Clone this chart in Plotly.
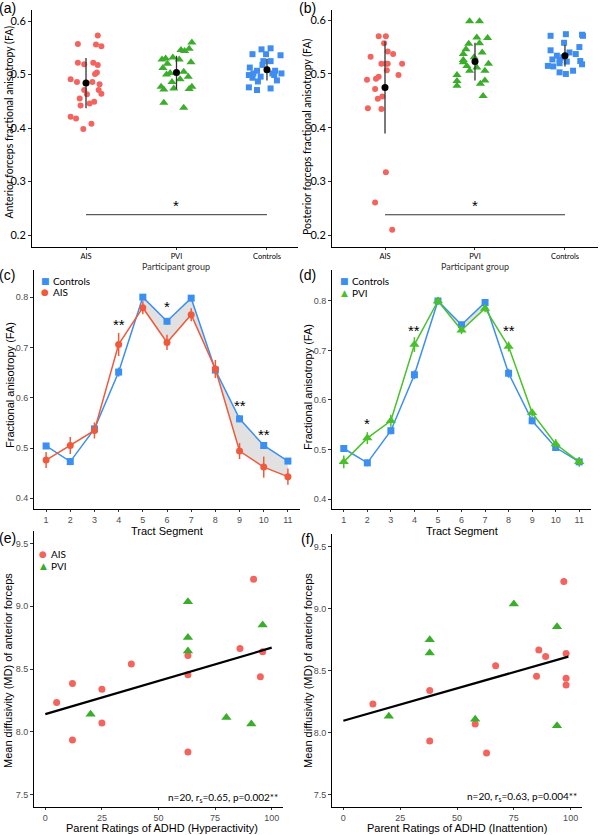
# ---------- LIBRARIES ---------- #
import plotly.graph_objects as go

# ---------- DATA ----------- #
groups = ["AIS", "PVI", "Controls"]

# (a) anterior forceps FA, points with their horizontal jitter
a_ais_fa = [0.573, 0.557, 0.556, 0.553, 0.522, 0.519, 0.522, 0.518, 0.501, 0.504, 0.491, 0.486, 0.486,
            0.482, 0.471, 0.463, 0.471, 0.464, 0.455, 0.442, 0.446, 0.449, 0.421, 0.418, 0.408, 0.398]
a_ais_jit = [0.13, -0.09, 0.11, 0.17, -0.09, -0.02, 0.08, 0.13, 0.10, 0.12, -0.17, -0.10, 0.07,
             0.15, -0.02, 0.01, 0.14, 0.17, -0.07, -0.06, 0.04, 0.09, -0.17, -0.11, 0.06, -0.03]
a_pvi_fa = [0.560, 0.546, 0.544, 0.548, 0.528, 0.532, 0.528, 0.520, 0.512, 0.523, 0.503, 0.505,
            0.496, 0.491, 0.486, 0.477, 0.472, 0.474, 0.477, 0.473, 0.447, 0.438, 0.500, 0.530]
a_pvi_jit = [0.17, 0.05, 0.09, 0.14, -0.16, -0.04, 0.03, -0.10, -0.15, 0.16, -0.07, 0.08,
             0.13, 0.04, -0.05, -0.17, -0.14, -0.03, 0.17, 0.14, -0.14, 0.08, -0.11, -0.12]
a_ctrl_fa = [0.547, 0.549, 0.538, 0.538, 0.536, 0.525, 0.525, 0.518, 0.513, 0.507, 0.502, 0.499,
             0.507, 0.502, 0.502, 0.499, 0.494, 0.496, 0.487, 0.489, 0.476, 0.471, 0.474]
a_ctrl_jit = [-0.06, 0.04, -0.16, -0.01, 0.15, -0.04, 0.04, -0.05, -0.19, -0.11, -0.15, -0.20,
              0.09, 0.06, 0.16, 0.08, -0.16, -0.07, -0.10, 0.11, -0.20, -0.11, 0.04]
a_mean = [0.484, 0.504, 0.509]
a_sd = [0.047, 0.031, 0.020]
a_sig_y = 0.238

# (b) posterior forceps FA
b_ais_fa = [0.570, 0.570, 0.557, 0.542, 0.537, 0.532, 0.519, 0.519, 0.519, 0.519, 0.507, 0.498,
            0.489, 0.491, 0.495, 0.472, 0.458, 0.454, 0.436, 0.435, 0.317, 0.261, 0.210]
b_ais_jit = [-0.07, 0.01, -0.01, 0.03, 0.09, -0.16, -0.04, 0.01, 0.03, 0.19, 0.02, 0.15,
             -0.20, -0.10, -0.07, -0.11, -0.03, -0.08, -0.19, -0.04, 0.01, -0.11, 0.08]
b_pvi_fa = [0.598, 0.598, 0.568, 0.567, 0.556, 0.557, 0.546, 0.540, 0.537, 0.531, 0.526, 0.515,
            0.522, 0.519, 0.512, 0.506, 0.506, 0.498, 0.487, 0.488, 0.482, 0.478, 0.459]
b_pvi_jit = [-0.06, 0.05, 0.02, 0.14, -0.07, 0.05, -0.10, 0.08, -0.13, -0.01, -0.13, -0.09,
             -0.13, 0.15, 0.02, -0.06, 0.11, -0.20, -0.20, 0.11, 0.06, -0.20, 0.09]
b_ctrl_fa = [0.571, 0.574, 0.573, 0.571, 0.558, 0.550, 0.544, 0.540, 0.537, 0.534, 0.531, 0.527,
             0.526, 0.520, 0.524, 0.518, 0.515, 0.514, 0.503, 0.500, 0.506, 0.523]
b_ctrl_jit = [-0.16, 0.01, 0.19, 0.20, -0.01, 0.16, -0.16, 0.05, 0.12, -0.09, -0.02, -0.14,
              -0.06, -0.06, 0.17, 0.19, -0.19, -0.13, -0.06, 0.01, 0.09, 0.02]
b_mean = [0.475, 0.523, 0.534]
b_sd = [0.086, 0.035, 0.020]
b_sig_y = 0.238

# (c), (d) tract profiles
segments = [1, 2, 3, 4, 5, 6, 7, 8, 9, 10, 11]
c_ctrl = [0.504, 0.473, 0.538, 0.651, 0.800, 0.752, 0.798, 0.655, 0.558, 0.505, 0.474]
c_ctrl_se = [0.006, 0.007, 0.007, 0.009, 0.005, 0.006, 0.005, 0.008, 0.007, 0.006, 0.006]
c_ais = [0.476, 0.505, 0.535, 0.706, 0.779, 0.710, 0.765, 0.657, 0.494, 0.462, 0.443]
c_ais_se = [0.016, 0.017, 0.016, 0.023, 0.013, 0.015, 0.013, 0.018, 0.016, 0.021, 0.016]
c_star_seg = [4, 6, 9, 10]
c_star_y = [0.746, 0.781, 0.584, 0.526]
c_star_txt = ["**", "*", "**", "**"]

d_ctrl = [0.502, 0.473, 0.538, 0.651, 0.800, 0.752, 0.797, 0.654, 0.558, 0.504, 0.475]
d_ctrl_se = [0.006, 0.007, 0.007, 0.009, 0.005, 0.006, 0.005, 0.009, 0.007, 0.006, 0.006]
d_pvi = [0.475, 0.523, 0.558, 0.712, 0.800, 0.741, 0.785, 0.708, 0.574, 0.511, 0.475]
d_pvi_se = [0.013, 0.012, 0.012, 0.015, 0.008, 0.008, 0.008, 0.010, 0.008, 0.010, 0.010]
d_star_seg = [2, 4, 8]
d_star_y = [0.552, 0.741, 0.741]
d_star_txt = ["*", "**", "**"]

# (e), (f) MD vs parent ADHD ratings
e_ais_hyp = [5, 12, 12, 25, 25, 38, 63, 63, 63, 86, 92, 96, 95]
e_ais_md = [8.233, 8.385, 7.934, 8.339, 8.070, 8.539, 8.608, 8.454, 7.839, 8.664, 9.216, 8.638, 8.438]
e_pvi_hyp = [20, 63, 63, 63, 80, 91, 96]
e_pvi_md = [8.140, 9.037, 8.752, 8.643, 8.113, 8.062, 8.851]
e_fit_x = [0, 100]
e_fit_y = [8.14, 8.67]

f_ais_inatt = [13, 38, 38, 58, 63, 67, 85, 86, 89, 97, 98, 98, 98]
f_ais_md = [8.231, 8.338, 7.931, 8.068, 7.835, 8.539, 8.454, 8.665, 8.612, 9.217, 8.638, 8.437, 8.384]
f_pvi_inatt = [20, 38, 38, 58, 75, 94, 94]
f_pvi_md = [8.132, 8.748, 8.641, 8.108, 9.035, 8.853, 8.054]
f_fit_x = [0, 99]
f_fit_y = [8.095, 8.612]

# ---------- STYLE ----------- #
RED = "#f4645f"
GREEN = "#3aad2a"
BLUE = "#3f8df0"
LINE_RED = "#ef5a3c"
LINE_BLUE = "#3b8ff0"
LINE_GREEN = "#48c228"
W, H = 600, 835
CAL = "Lato"
ARI = "Liberation Sans"


def px(x):
    return x / W


def py(y):
    return 1 - y / H


fig = go.Figure()


def strip_panel(ax, data, mean, sd):
    xa, ya = ("x", "y") if ax == 1 else ("x%d" % ax, "y%d" % ax)
    styles = [("circle", RED, 6), ("triangle-up", GREEN, 8), ("square", BLUE, 6)]
    for i, (vals, jit) in enumerate(data):
        sym, col, sz = styles[i]
        fig.add_trace(go.Scatter(
            x=[i + 1 + j for j in jit], y=vals, mode="markers", xaxis=xa, yaxis=ya,
            marker=dict(symbol=sym, color=col, size=sz, line=dict(width=0)),
            showlegend=False))
    fig.add_trace(go.Scatter(
        x=[1, 2, 3], y=mean, mode="markers", xaxis=xa, yaxis=ya,
        marker=dict(color="black", size=7),
        error_y=dict(type="data", array=sd, color="#333333", thickness=1.3, width=0),
        showlegend=False))


strip_panel(1, [(a_ais_fa, a_ais_jit), (a_pvi_fa, a_pvi_jit), (a_ctrl_fa, a_ctrl_jit)], a_mean, a_sd)
strip_panel(2, [(b_ais_fa, b_ais_jit), (b_pvi_fa, b_pvi_jit), (b_ctrl_fa, b_ctrl_jit)], b_mean, b_sd)


def profile_panel(ax, ctrl, ctrl_se, grp, grp_se, gsym, gcol, gsz, shade, stars):
    xa, ya = "x%d" % ax, "y%d" % ax
    s0, s1 = shade
    fig.add_trace(go.Scatter(
        x=segments[s0:s1] + segments[s0:s1][::-1], y=ctrl[s0:s1] + grp[s0:s1][::-1],
        fill="toself", fillcolor="rgba(200,200,200,0.55)", line=dict(width=0),
        mode="lines", xaxis=xa, yaxis=ya, showlegend=False, hoverinfo="skip"))
    fig.add_trace(go.Scatter(
        x=segments, y=ctrl, mode="lines+markers", xaxis=xa, yaxis=ya,
        line=dict(color=LINE_BLUE, width=1.5),
        marker=dict(symbol="square", color=LINE_BLUE, size=7),
        error_y=dict(type="data", array=ctrl_se, color=LINE_BLUE, thickness=1.5, width=0),
        showlegend=False))
    fig.add_trace(go.Scatter(
        x=segments, y=grp, mode="lines+markers", xaxis=xa, yaxis=ya,
        line=dict(color=gcol, width=1.5),
        marker=dict(symbol=gsym, color=gcol, size=gsz),
        error_y=dict(type="data", array=grp_se, color=gcol, thickness=1.5, width=0),
        showlegend=False))
    for s, yv, t in zip(*stars):
        fig.add_annotation(x=s, y=yv, xref=xa, yref=ya, text=t, showarrow=False,
                           font=dict(family=ARI, size=15, color="black"))


profile_panel(3, c_ctrl, c_ctrl_se, c_ais, c_ais_se, "circle", LINE_RED, 7, (4, 11),
              (c_star_seg, c_star_y, c_star_txt))
profile_panel(4, d_ctrl, d_ctrl_se, d_pvi, d_pvi_se, "triangle-up", LINE_GREEN, 9, (4, 7),
              (d_star_seg, d_star_y, d_star_txt))


def scatter_panel(ax, ax_x, ax_y, pv_x, pv_y, fx, fy):
    xa, ya = "x%d" % ax, "y%d" % ax
    fig.add_trace(go.Scatter(x=ax_x, y=ax_y, mode="markers", xaxis=xa, yaxis=ya,
                             marker=dict(color=RED, size=7), showlegend=False))
    fig.add_trace(go.Scatter(x=pv_x, y=pv_y, mode="markers", xaxis=xa, yaxis=ya,
                             marker=dict(symbol="triangle-up", color=GREEN, size=9), showlegend=False))
    fig.add_trace(go.Scatter(x=fx, y=fy, mode="lines", xaxis=xa, yaxis=ya,
                             line=dict(color="black", width=2.2), showlegend=False))


scatter_panel(5, e_ais_hyp, e_ais_md, e_pvi_hyp, e_pvi_md, e_fit_x, e_fit_y)
scatter_panel(6, f_ais_inatt, f_ais_md, f_pvi_inatt, f_pvi_md, f_fit_x, f_fit_y)

# ---------- AXES ----------- #
base = dict(showline=True, linecolor="black", linewidth=1, showgrid=False, zeroline=False,
            ticks="outside", ticklen=3, tickcolor="#333333", mirror=False)
grey_ticks = dict(family=ARI, size=9, color="#4d4d4d")
cat_ticks = dict(family=CAL, size=7.5, color="black")

layout_axes = {
    "xaxis": dict(base, domain=[px(32), px(298)], range=[0.403, 3.343], anchor="y", ticklen=2,
                  tickvals=[1, 2, 3], ticktext=groups, tickfont=cat_ticks),
    "yaxis": dict(base, domain=[py(247), py(10)], range=[0.1776, 0.6206], anchor="x",
                  tickvals=[0.2, 0.3, 0.4, 0.5, 0.6], tickfont=dict(family=CAL, size=11, color="black")),
    "xaxis2": dict(base, domain=[px(332), px(598)], range=[0.411, 3.367], anchor="y2", ticklen=2,
                   tickvals=[1, 2, 3], ticktext=groups, tickfont=cat_ticks),
    "yaxis2": dict(base, domain=[py(247), py(10)], range=[0.178, 0.619], anchor="x2",
                   tickvals=[0.2, 0.3, 0.4, 0.5, 0.6], tickfont=dict(family=CAL, size=11, color="black")),
    "xaxis3": dict(base, domain=[px(34), px(300)], range=[0.5, 11.5], anchor="y3", ticklen=2,
                   tickvals=segments, tickfont=grey_ticks),
    "yaxis3": dict(base, domain=[py(509), py(270)], range=[0.3787, 0.854], anchor="x3",
                   tickvals=[0.4, 0.5, 0.6, 0.7, 0.8], tickformat=".1f", tickfont=grey_ticks),
    "xaxis4": dict(base, domain=[px(332), px(591)], range=[0.5, 11.5], anchor="y4", ticklen=2,
                   tickvals=segments, tickfont=grey_ticks),
    "yaxis4": dict(base, domain=[py(509), py(270)], range=[0.3798, 0.8626], anchor="x4",
                   tickvals=[0.4, 0.5, 0.6, 0.7, 0.8], tickformat=".1f", tickfont=grey_ticks),
    "xaxis5": dict(base, domain=[px(34), px(283)], range=[-5, 105], anchor="y5", ticklen=2,
                   tickvals=[0, 25, 50, 75, 100], tickfont=grey_ticks),
    "yaxis5": dict(base, domain=[py(807), py(531)], range=[7.4, 9.6], anchor="x5",
                   tickvals=[7.5, 8.0, 8.5, 9.0, 9.5], tickformat=".1f", tickfont=grey_ticks),
    "xaxis6": dict(base, domain=[px(332), px(582)], range=[-5, 105], anchor="y6", ticklen=2,
                   tickvals=[0, 25, 50, 75, 100], tickfont=grey_ticks),
    "yaxis6": dict(base, domain=[py(807), py(534)], range=[7.4, 9.6], anchor="x6",
                   tickvals=[7.5, 8.0, 8.5, 9.0, 9.5], tickformat=".1f", tickfont=grey_ticks),
}

fig.update_layout(
    width=W, height=H, margin=dict(l=0, r=0, t=0, b=0),
    paper_bgcolor="white", plot_bgcolor="white", showlegend=False,
    **layout_axes)

# significance bars in (a) and (b)
for xa, ya, yv in [("x", "y", a_sig_y), ("x2", "y2", b_sig_y)]:
    fig.add_shape(type="line", xref=xa, yref=ya, x0=1, x1=3, y0=yv, y1=yv,
                  line=dict(color="#333333", width=1))
    fig.add_annotation(x=2, y=yv, xref=xa, yref=ya, text="*", showarrow=False, yshift=9,
                       font=dict(family=ARI, size=15, color="black"))


def note(x, y, text, size, family=ARI, angle=0, color="black", xanchor="center"):
    fig.add_annotation(x=px(x), y=py(y), xref="paper", yref="paper", text=text, showarrow=False,
                       textangle=angle, xanchor=xanchor, yanchor="middle", borderpad=0,
                       font=dict(family=family, size=size, color=color))


# panel letters
for lx, ly, t in [(7, 8, "(a)"), (307, 8, "(b)"), (7, 275, "(c)"), (307, 275, "(d)"),
                  (7, 538, "(e)"), (307, 539, "(f)")]:
    note(lx, ly, t, 14)

# axis titles
note(8.5, 122, "Anterior forceps fractional anisotropy (FA)", 10.5, CAL, -90)
note(176, 266, "Participant group", 9, CAL, color="#333333")
note(307, 137, "Posterior forceps fractional anisotropy (FA)", 10.5, CAL, -90)
note(475, 266, "Participant group", 9, CAL, color="#333333")
note(10, 385, "Fractional anisotropy (FA)", 11, ARI, -90)
note(167, 531, "Tract Segment", 11)
note(308, 387, "Fractional anisotropy (FA)", 11, ARI, -90)
note(462, 531, "Tract Segment", 11)
note(8, 671, "Mean diffusivity (MD) of anterior forceps", 11, ARI, -90)
note(162, 828, "Parent Ratings of ADHD (Hyperactivity)", 11)
note(308, 671, "Mean diffusivity (MD) of anterior forceps", 11, ARI, -90)
note(457, 828, "Parent Ratings of ADHD (Inattention)", 11)

# stats
note(279, 797, "n=20, r<sub>s</sub>=0.65, p=0.002**", 10, CAL, xanchor="right")
note(578, 796, "n=20, r<sub>s</sub>=0.63, p=0.004**", 10, CAL, xanchor="right")

# legends
legend_items = [
    (45, 281, "■", LINE_BLUE, "Controls"), (45, 292, "●", LINE_RED, "AIS"),
    (344, 281, "■", LINE_BLUE, "Controls"), (344, 293, "▲", LINE_GREEN, "PVI"),
    (43, 554, "●", RED, "AIS"), (43, 566, "▲", GREEN, "PVI"),
]
for lx, ly, sym, col, lab in legend_items:
    note(lx, ly, sym, 9, "DejaVu Sans", color=col)
    note(lx + 7, ly, lab, 10, CAL, xanchor="left")

# drop the page's default body margin so the figure sits at the window corner
fig.write_html("out.html", config={"displayModeBar": False},
               post_script="document.body.style.margin='0';")
